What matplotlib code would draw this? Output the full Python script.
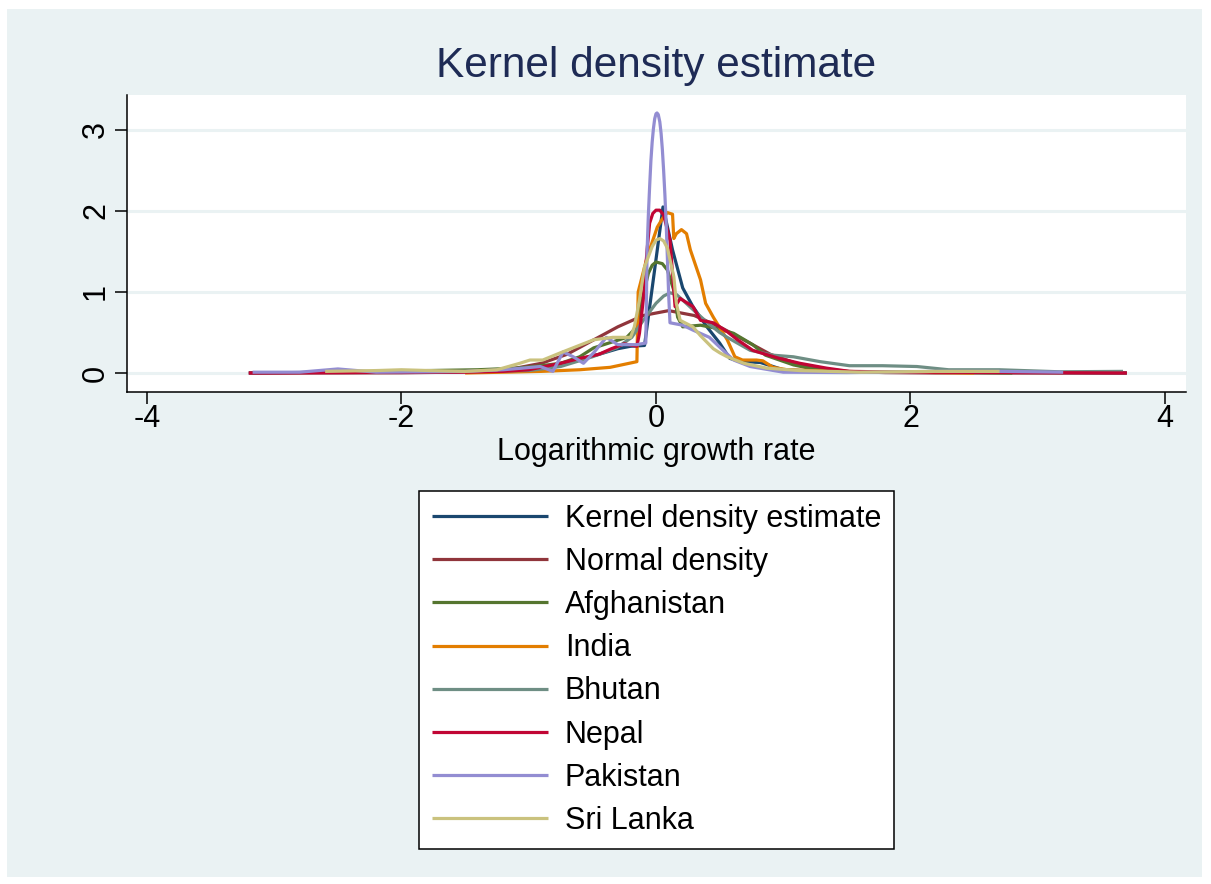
import matplotlib
matplotlib.use("Agg")
import matplotlib.pyplot as plt
from matplotlib import font_manager
from matplotlib.patches import Rectangle

plt.rcParams['font.family'] = ['Liberation Sans', 'DejaVu Sans']
plt.rcParams['axes.unicode_minus'] = False

# ---------------- data ----------------
series_names = ["Kernel density estimate", "Normal density", "Afghanistan", "India",
                "Bhutan", "Nepal", "Pakistan", "Sri Lanka"]
series_colors = ["#1a476f", "#90353b", "#55752f", "#e37e00",
                 "#6e8e84", "#c10534", "#938dd2", "#cac27e"]

kde_x = [-3.2, -2.5, -2.0, -1.5, -1.2, -1.0, -0.8, -0.6, -0.45, -0.3, -0.2, -0.09, 0.055, 0.13,
         0.21, 0.29, 0.40, 0.50, 0.58, 0.68, 0.82, 1.0, 1.3, 2.0, 3.0, 3.7]
kde_y = [0.0, 0.01, 0.01, 0.02, 0.04, 0.06, 0.10, 0.17, 0.23, 0.30, 0.33, 0.34, 2.05, 1.52,
         1.05, 0.82, 0.57, 0.37, 0.18, 0.14, 0.13, 0.04, 0.02, 0.01, 0.005, 0.0]

normal_x = [-3.2, -2.5, -2.0, -1.6, -1.3, -1.1, -0.9, -0.7, -0.5, -0.3, -0.1, 0.1, 0.3, 0.5,
            0.7, 0.9, 1.1, 1.3, 1.5, 1.8, 2.2, 3.0, 3.7]
normal_y = [0.0, 0.0, 0.002, 0.01, 0.03, 0.06, 0.12, 0.23, 0.40, 0.57, 0.71, 0.77, 0.71, 0.57,
            0.40, 0.23, 0.12, 0.055, 0.02, 0.005, 0.0, 0.0, 0.0]

afg_x = [-2.3, -1.8, -1.4, -1.1, -0.9, -0.75, -0.6, -0.49, -0.35, -0.23, -0.15, -0.11, -0.06, -0.03,
         0.0, 0.05, 0.09, 0.14, 0.17, 0.21, 0.35, 0.48, 0.61, 0.76, 0.86, 0.97, 1.08, 1.26, 1.6,
         2.2, 2.8]
afg_y = [0.01, 0.03, 0.04, 0.06, 0.09, 0.12, 0.20, 0.31, 0.38, 0.44, 0.57, 0.90, 1.23, 1.33,
         1.37, 1.35, 1.27, 1.02, 0.69, 0.57, 0.59, 0.55, 0.49, 0.35, 0.22, 0.16, 0.10, 0.04, 0.01,
         0.01, 0.0]

ind_x = [-1.5, -1.2, -0.9, -0.6, -0.36, -0.15, -0.14, -0.07, 0.01, 0.06, 0.09, 0.13, 0.14, 0.16,
         0.2, 0.24, 0.27, 0.35, 0.39, 0.45, 0.56, 0.62, 0.68, 0.79, 0.84, 0.92, 1.03, 1.4, 2.0, 2.5]
ind_y = [0.0, 0.01, 0.02, 0.04, 0.07, 0.14, 1.0, 1.43, 1.80, 1.93, 1.98, 1.96, 1.66, 1.72,
         1.77, 1.72, 1.52, 1.15, 0.86, 0.69, 0.41, 0.20, 0.16, 0.16, 0.15, 0.07, 0.04, 0.02, 0.01,
         0.0]

bhu_x = [-1.9, -1.4, -1.0, -0.75, -0.5, -0.31, -0.19, -0.1, 0.0, 0.06, 0.11, 0.16, 0.21, 0.32,
         0.42, 0.5, 0.56, 0.74, 0.92, 1.08, 1.29, 1.52, 1.78, 2.05, 2.3, 2.7, 3.17, 3.67]
bhu_y = [0.01, 0.02, 0.03, 0.08, 0.20, 0.31, 0.44, 0.65, 0.86, 0.95, 0.99, 0.97, 0.90, 0.74,
         0.60, 0.50, 0.44, 0.28, 0.22, 0.20, 0.14, 0.09, 0.09, 0.08, 0.04, 0.04, 0.015, 0.02]

nep_x = [-3.2, -2.5, -2.0, -1.5, -1.2, -1.0, -0.75, -0.6, -0.45, -0.35, -0.25, -0.15, -0.13, -0.1,
         -0.07, -0.05, -0.025, 0.0, 0.03, 0.06, 0.11, 0.15, 0.19, 0.29, 0.35, 0.45, 0.56, 0.64,
         0.76, 0.82, 0.97, 1.13, 1.34, 1.52, 2.0, 3.0, 3.7]
nep_y = [0.0, 0.005, 0.01, 0.01, 0.02, 0.04, 0.12, 0.18, 0.23, 0.30, 0.36, 0.33, 0.49, 0.90,
         1.52, 1.85, 1.97, 2.01, 2.01, 1.95, 1.64, 0.82, 0.92, 0.82, 0.65, 0.62, 0.51, 0.41,
         0.28, 0.25, 0.18, 0.12, 0.06, 0.02, 0.01, 0.005, 0.0]

pak_x = [-3.17, -2.8, -2.5, -2.2, -1.8, -1.5, -1.2, -1.05, -0.91, -0.81, -0.73, -0.65, -0.57,
         -0.49, -0.39, -0.3, -0.15, -0.08, -0.07, -0.06, -0.05, -0.04, -0.03, -0.02, -0.01, 0.0,
         0.008, 0.018, 0.03, 0.04, 0.05, 0.06, 0.07, 0.08, 0.09, 0.1, 0.11,
         0.21, 0.29, 0.42, 0.5, 0.61, 0.74, 1.0, 1.5, 2.2, 2.7, 3.2]
pak_y = [0.01, 0.01, 0.05, 0.01, 0.015, 0.02, 0.04, 0.06, 0.08, 0.02, 0.26, 0.20, 0.12,
         0.25, 0.44, 0.35, 0.35, 0.37, 1.50, 1.95, 2.30, 2.62, 2.85, 3.02, 3.14, 3.20,
         3.21, 3.19, 3.10, 2.96, 2.76, 2.50, 2.20, 1.85, 1.40, 0.95, 0.62,
         0.59, 0.53, 0.44, 0.32, 0.16, 0.08, 0.01, 0.005, 0.02, 0.02, 0.01]

sri_x = [-2.6, -2.2, -2.0, -1.78, -1.5, -1.25, -1.07, -0.99, -0.89, -0.75, -0.62, -0.49, -0.34,
         -0.2, -0.17, -0.13, -0.09, -0.03, 0.0, 0.03, 0.06, 0.09, 0.14, 0.16, 0.19, 0.29, 0.35,
         0.45, 0.5, 0.56, 0.69, 0.87, 1.13, 1.6, 2.2, 2.7]
sri_y = [0.02, 0.03, 0.04, 0.03, 0.02, 0.04, 0.12, 0.16, 0.16, 0.25, 0.33, 0.41, 0.44,
         0.44, 0.57, 0.90, 1.31, 1.56, 1.64, 1.66, 1.63, 1.54, 1.19, 0.86, 0.65, 0.57, 0.46,
         0.30, 0.25, 0.20, 0.12, 0.06, 0.03, 0.01, 0.02, 0.02]

series_x = [kde_x, normal_x, afg_x, ind_x, bhu_x, nep_x, pak_x, sri_x]
series_y = [kde_y, normal_y, afg_y, ind_y, bhu_y, nep_y, pak_y, sri_y]

x_ticks = [-4, -2, 0, 2, 4]
y_ticks = [0, 1, 2, 3]
title_text = "Kernel density estimate"
xlabel_text = "Logarithmic growth rate"

# ---------------- figure ----------------
W, H = 1211, 884
bg = "#eaf2f3"
fig = plt.figure(figsize=(W / 100, H / 100), dpi=100, facecolor="white")
fig.patches.append(Rectangle((7 / W, 1 - 877 / H), (1202 - 7) / W, (877 - 9) / H,
                             transform=fig.transFigure, facecolor=bg, edgecolor="none",
                             zorder=-10))

L, R, T, B = 127, 1186, 95, 392
ax = fig.add_axes([L / W, 1 - B / H, (R - L) / W, (B - T) / H])
ax.set_zorder(5)
ax.set_facecolor("white")
ax.set_xlim(-4.157, 4.165)
ax.set_ylim(-0.2346, 3.432)

for yt in y_ticks:
    ax.axhline(yt, color=bg, lw=2.2, zorder=1)

lines = []
for xs, ys, c, n in zip(series_x, series_y, series_colors, series_names):
    ln, = ax.plot(xs, ys, color=c, lw=2.3, label=n, zorder=3,
                  solid_joinstyle="round", solid_capstyle="butt")
    lines.append(ln)

for s in ["top", "right"]:
    ax.spines[s].set_visible(False)
for s in ["left", "bottom"]:
    ax.spines[s].set_linewidth(1.1)
    ax.spines[s].set_color("black")

ax.set_xticks(x_ticks)
ax.set_xticklabels([str(v) for v in x_ticks])
ax.set_yticks(y_ticks)
ax.set_yticklabels([str(v) for v in y_ticks], rotation=90, va="center")
ax.tick_params(axis="both", direction="out", length=8.5, width=1.1, labelsize=22, colors="black")
ax.tick_params(axis="x", pad=0)
ax.tick_params(axis="y", pad=3)

ax.set_xlabel(xlabel_text, fontsize=22, labelpad=2)

# Title (Stata renders it narrower)
narrow = None
try:
    font_manager.findfont("Liberation Sans Narrow", fallback_to_default=False)
    narrow = "Liberation Sans Narrow"
except Exception:
    narrow = None
if narrow:
    fig.text(656.5 / W, 1 - 66 / H, title_text, ha="center", va="center",
             fontsize=34, color="#1e2b55", family=[narrow, "DejaVu Sans"])
else:
    fig.text(656.5 / W, 1 - 66 / H, title_text, ha="center", va="center",
             fontsize=30.5, color="#1e2b55")

leg = fig.legend(handles=lines, labels=series_names, loc="upper center",
                 bbox_to_anchor=(656.5 / W, 1 - 491 / H), ncol=1, fontsize=22,
                 frameon=True, fancybox=False, edgecolor="black", facecolor="white",
                 framealpha=1, handlelength=3.8, handletextpad=0.55, labelspacing=0.43,
                 borderpad=0.42, borderaxespad=0)
leg.get_frame().set_linewidth(1.1)
for h in leg.get_lines():
    h.set_linewidth(2.3)

fig.savefig("out.png", dpi=100, facecolor="white")
